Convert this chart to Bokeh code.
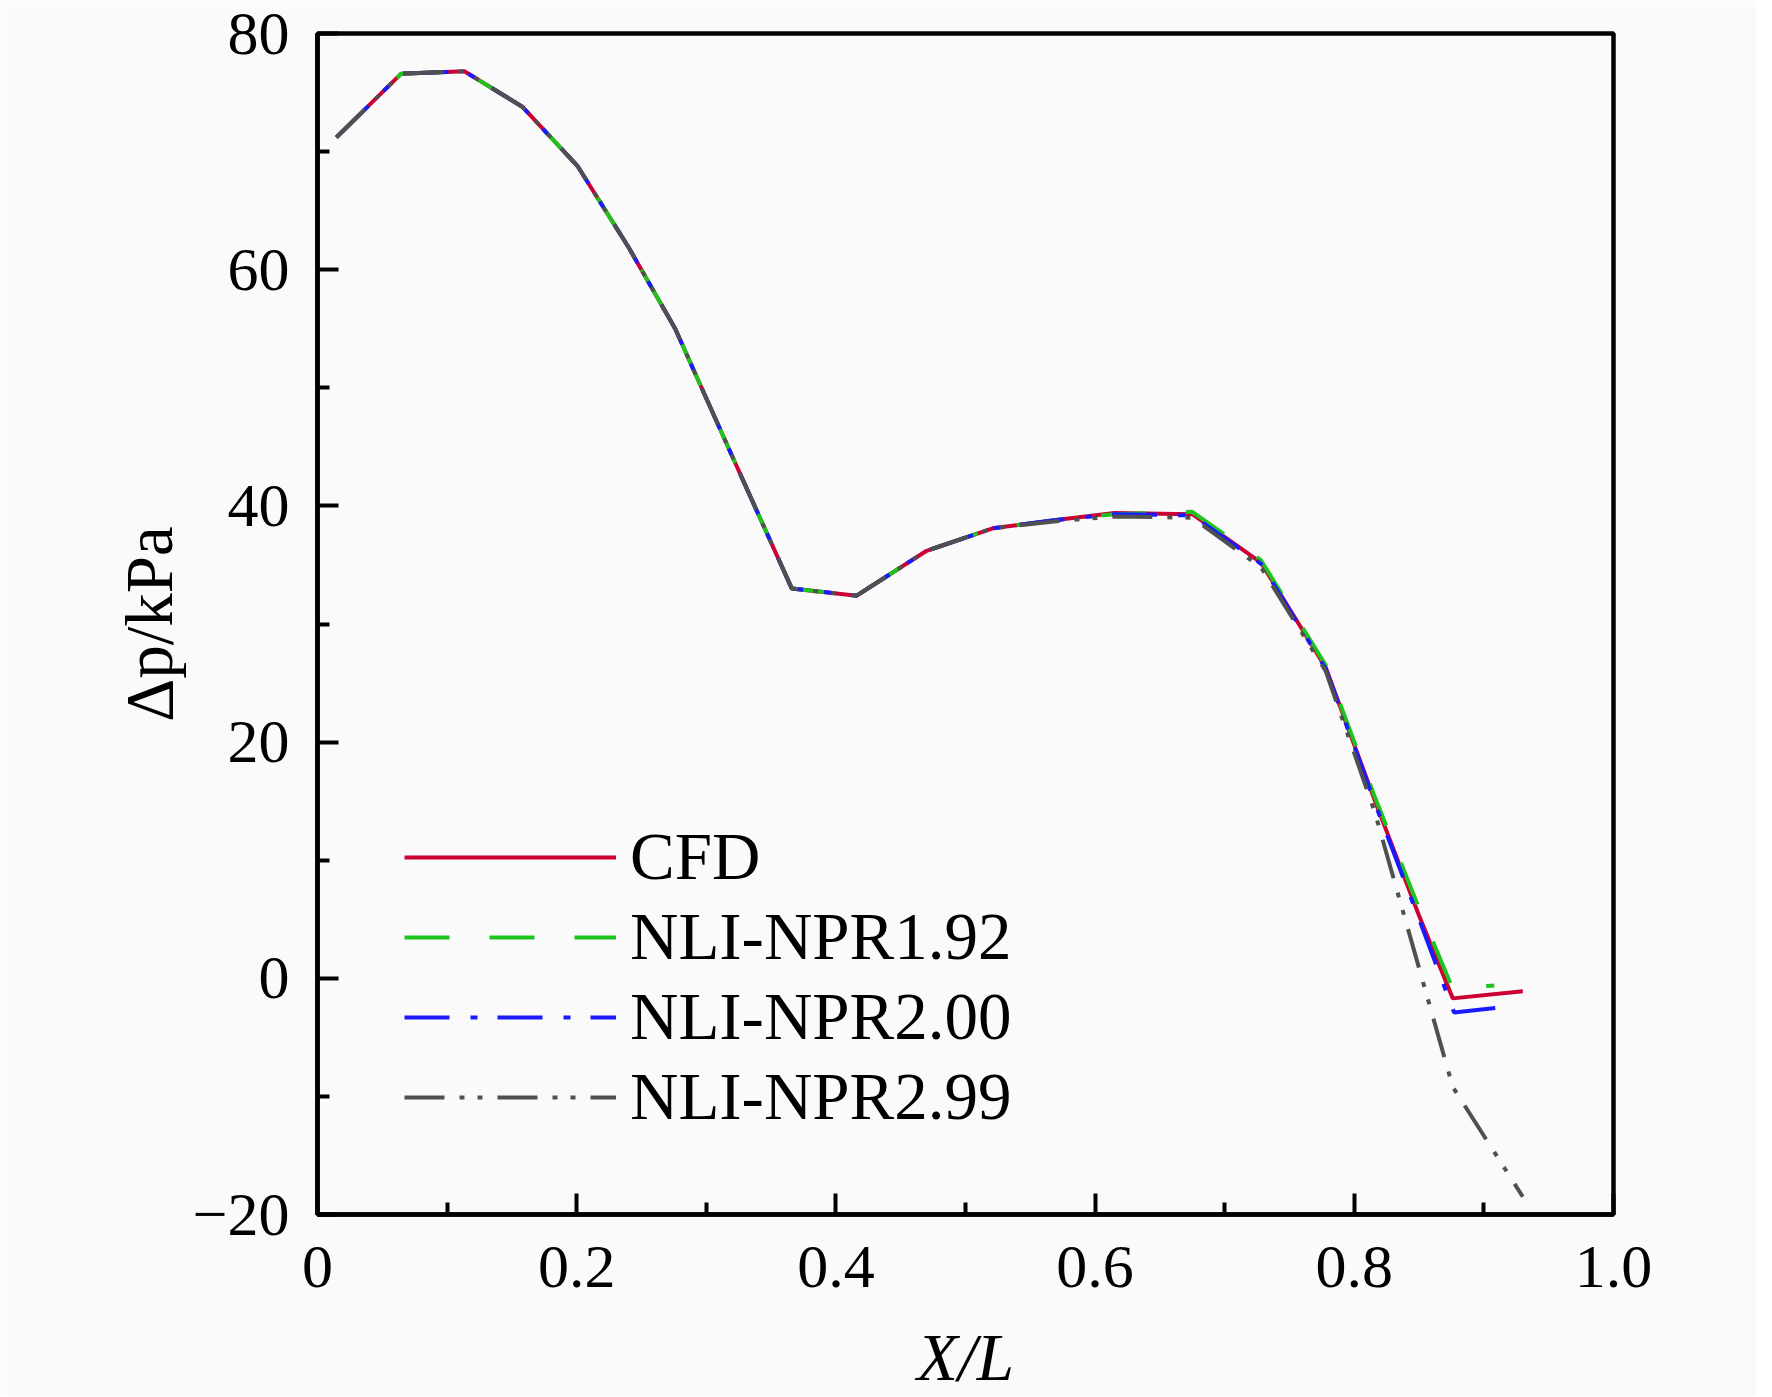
from bokeh.plotting import figure
from bokeh.models import Range1d, FixedTicker, Legend, LegendItem
from bokeh.embed import file_html
from bokeh.resources import INLINE

# ---- data ----
x_cfd = [0.0146, 0.0646, 0.1133, 0.158, 0.2005, 0.240, 0.276, 0.320, 0.366, 0.416,
         0.470, 0.521, 0.570, 0.615, 0.675, 0.728, 0.778, 0.816, 0.850, 0.876, 0.930]
y_cfd = [71.2, 76.6, 76.8, 73.8, 68.8, 61.9, 55.0, 44.2, 33.0, 32.4,
         36.2, 38.1, 38.8, 39.4, 39.3, 35.2, 26.3, 15.0, 5.3, -1.7, -1.1]

x_192 = [0.0146, 0.0646, 0.1133, 0.158, 0.2005, 0.240, 0.276, 0.320, 0.366, 0.416,
         0.470, 0.521, 0.570, 0.615, 0.675, 0.728, 0.778, 0.816, 0.850, 0.876, 0.908]
y_192 = [71.2, 76.6, 76.8, 73.8, 68.8, 61.9, 55.0, 44.2, 33.0, 32.4,
         36.2, 38.1, 38.8, 39.3, 39.5, 35.4, 26.5, 15.3, 5.9, -0.9, -0.6]

x_200 = [0.0146, 0.0646, 0.1133, 0.158, 0.2005, 0.240, 0.276, 0.320, 0.366, 0.416,
         0.470, 0.521, 0.570, 0.615, 0.675, 0.728, 0.778, 0.816, 0.850, 0.877, 0.919]
y_200 = [71.2, 76.6, 76.8, 73.8, 68.8, 61.9, 55.0, 44.2, 33.0, 32.4,
         36.2, 38.1, 38.8, 39.3, 39.2, 35.1, 26.2, 14.8, 5.0, -2.9, -2.4]

x_299 = [0.0146, 0.0646, 0.1133, 0.158, 0.2005, 0.240, 0.276, 0.320, 0.366, 0.416,
         0.470, 0.521, 0.570, 0.615, 0.675, 0.728, 0.778, 0.816, 0.876, 0.930]
y_299 = [71.2, 76.6, 76.8, 73.8, 68.8, 61.9, 55.0, 44.2, 33.0, 32.4,
         36.2, 38.1, 38.7, 39.1, 39.0, 34.8, 26.0, 14.0, -9.2, -18.5]

x_ticks = [0, 0.2, 0.4, 0.6, 0.8, 1.0]
x_minor = [0.1, 0.3, 0.5, 0.7, 0.9]
x_tick_labels = {0: "0", 0.2: "0.2", 0.4: "0.4", 0.6: "0.6", 0.8: "0.8", 1: "1.0"}
y_ticks = [-20, 0, 20, 40, 60, 80]
y_minor = [-10, 10, 30, 50, 70]
y_tick_labels = {-20: "\u221220", 0: "0", 20: "20", 40: "40", 60: "60", 80: "80"}

labels = ["CFD", "NLI-NPR1.92", "NLI-NPR2.00", "NLI-NPR2.99"]
colors = ["#cc0033", "#1ec41e", "#1a1aff", "#505050"]
dashes = ["solid", "45 40", "45 21 7 20", "40 15 5 13 5 15"]

FONT = "Liberation Serif"
BG = "#fafafa"
FW, FH = 1296, 1181

p = figure(frame_width=FW, frame_height=FH,
           x_range=Range1d(0, 1), y_range=Range1d(-20, 80),
           output_backend="svg", toolbar_location=None,
           min_border_left=317, min_border_right=1756 - 317 - FW,
           min_border_top=33, min_border_bottom=1381 - 33 - FH,
           background_fill_color=BG, border_fill_color=BG)

p.xgrid.visible = False
p.ygrid.visible = False
p.outline_line_color = "black"
p.outline_line_width = 4.5

p.xaxis.ticker = FixedTicker(ticks=x_ticks, minor_ticks=x_minor)
p.yaxis.ticker = FixedTicker(ticks=y_ticks, minor_ticks=y_minor)
p.xaxis.major_label_overrides = x_tick_labels
p.yaxis.major_label_overrides = y_tick_labels

for ax in (p.xaxis[0], p.yaxis[0]):
    ax.axis_line_width = 4.5
    ax.axis_line_color = "black"
    ax.major_tick_in = 21
    ax.major_tick_out = 0
    ax.minor_tick_in = 12
    ax.minor_tick_out = 0
    ax.major_tick_line_width = 4
    ax.minor_tick_line_width = 4
    ax.major_tick_line_color = "black"
    ax.minor_tick_line_color = "black"
    ax.major_label_text_font = FONT
    ax.major_label_text_font_size = "62px"
    ax.major_label_text_color = "black"
    ax.axis_label_text_font = FONT
    ax.axis_label_text_font_size = "67px"
    ax.axis_label_text_color = "black"

p.xaxis.major_label_standoff = 32
p.yaxis.major_label_standoff = 28

p.xaxis.axis_label = "X/L"
p.xaxis.axis_label_text_font_style = "italic"
p.xaxis.axis_label_standoff = 30

p.yaxis.axis_label = "\u0394p/kPa"
p.yaxis.axis_label_text_font_style = "normal"
p.yaxis.axis_label_standoff = 4

renderers = []
for xs, ys, c, d in zip([x_cfd, x_192, x_200, x_299], [y_cfd, y_192, y_200, y_299], colors, dashes):
    r = p.line(xs, ys, line_color=c, line_width=4, line_dash=d)
    renderers.append(r)

legend = Legend(items=[LegendItem(label=l, renderers=[r]) for l, r in zip(labels, renderers)],
                location=(87, 79), glyph_width=212, glyph_height=76, spacing=3,
                padding=0, margin=0, label_standoff=14,
                label_text_font=FONT, label_text_font_size="67px", label_text_color="black",
                background_fill_alpha=0, border_line_alpha=0)
p.add_layout(legend)

open("out.html", "w").write(file_html(p, INLINE))
